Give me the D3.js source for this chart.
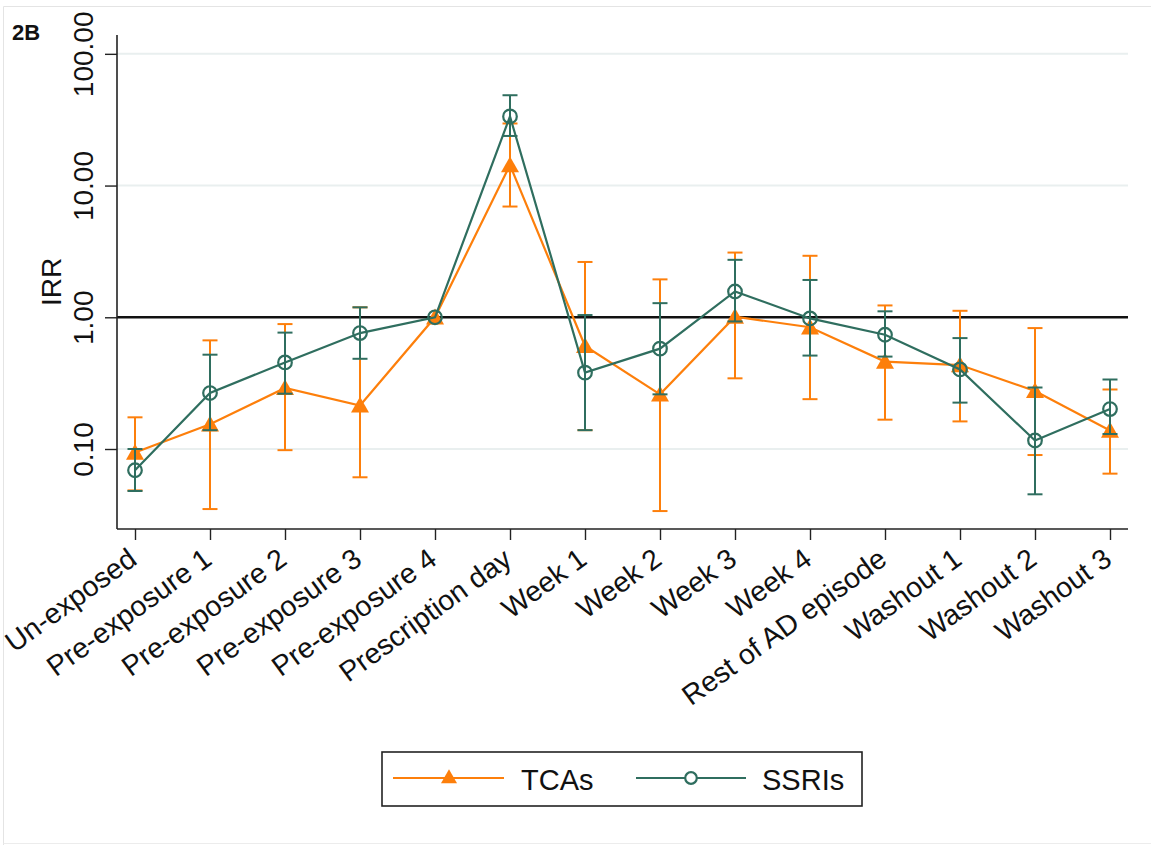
<!DOCTYPE html>
<html>
<head>
<meta charset="utf-8">
<script src="https://cdn.jsdelivr.net/npm/d3@7"></script>
<style>
  html, body { margin: 0; padding: 0; background: #fff; }
  svg { display: block; }
  svg text { font-family: "Liberation Sans", Arial, Helvetica, sans-serif; }
</style>
</head>
<body>
<svg id="chart" width="1151" height="845"></svg>
<script>
// Periods relative to antidepressant prescription
const categories = [
  "Un-exposed", "Pre-exposure 1", "Pre-exposure 2", "Pre-exposure 3", "Pre-exposure 4",
  "Prescription day", "Week 1", "Week 2", "Week 3", "Week 4",
  "Rest of AD episode", "Washout 1", "Washout 2", "Washout 3"
];

// Incidence rate ratios with 95% confidence limits (Pre-exposure 4 = reference)
const tcaIRR  = [0.094, 0.154, 0.291, 0.214, 1.00, 14.3, 0.606, 0.26, 1.01, 0.84, 0.461, 0.434, 0.276, 0.138];
const tcaLow  = [0.0485, 0.035, 0.098, 0.061, null, 6.93, 0.139, 0.0338, 0.344, 0.239, 0.167, 0.162, 0.090, 0.065];
const tcaHigh = [0.174, 0.668, 0.888, 1.19, null, 29.6, 2.63, 1.94, 3.10, 2.93, 1.23, 1.12, 0.828, 0.283];

const ssriIRR  = [0.069, 0.266, 0.454, 0.759, 1.00, 33.5, 0.380, 0.578, 1.57, 0.98, 0.737, 0.402, 0.116, 0.201];
const ssriLow  = [0.048, 0.139, 0.263, 0.484, null, 23.8, 0.139, 0.260, 0.93, 0.512, 0.503, 0.225, 0.0453, 0.130];
const ssriHigh = [0.100, 0.520, 0.765, 1.19, null, 48.5, 1.04, 1.28, 2.73, 1.92, 1.11, 0.695, 0.293, 0.337];

const yTicks = [0.1, 1, 10, 100];
const yTickLabels = ["0.10", "1.00", "10.00", "100.00"];
const seriesNames = ["TCAs", "SSRIs"];

const ORANGE = "#fd7f0b";
const GREEN = "#2f6e5f";
const FONT = '"Liberation Sans", Arial, Helvetica, sans-serif';

const svg = d3.select("#chart");

// light outer frame of the graph region
svg.append("path")
  .attr("d", "M3.5,845 V6.5 H1151")
  .attr("fill", "none").attr("stroke", "#e4e4e4").attr("stroke-width", 1);
svg.append("line")
  .attr("x1", 3.5).attr("x2", 1151).attr("y1", 843.5).attr("y2", 843.5)
  .attr("stroke", "#ececec");

const plot = { left: 117, right: 1128, top: 35, bottom: 529 };

const x = d3.scalePoint()
  .domain(categories)
  .range([plot.left, plot.right])
  .padding(0.24);

const y = d3.scaleLog()
  .domain([0.0247, 139])
  .range([plot.bottom, plot.top]);

// horizontal grid lines
svg.append("g").selectAll("line")
  .data(yTicks.filter(v => v !== 1))
  .join("line")
  .attr("x1", plot.left).attr("x2", plot.right)
  .attr("y1", d => y(d)).attr("y2", d => y(d))
  .attr("stroke", "#e9efef").attr("stroke-width", 2);

// reference line at IRR = 1
svg.append("line")
  .attr("x1", plot.left).attr("x2", plot.right)
  .attr("y1", y(1)).attr("y2", y(1))
  .attr("stroke", "#111").attr("stroke-width", 2.6);

// y axis
const yAxis = d3.axisLeft(y)
  .tickValues(yTicks)
  .tickFormat((d, i) => yTickLabels[i])
  .tickSize(12)
  .tickPadding(0);
const gy = svg.append("g")
  .attr("transform", `translate(${plot.left},0)`)
  .call(yAxis)
  .attr("font-family", FONT);
gy.select(".domain").attr("d", `M0,${plot.top}V${plot.bottom}`).attr("stroke", "#222").attr("stroke-width", 1.6);
gy.selectAll(".tick line").attr("stroke", "#222").attr("stroke-width", 1.4);
gy.selectAll(".tick text")
  .attr("x", 0).attr("y", 0).attr("dy", 0)
  .attr("transform", "translate(-24,0) rotate(-90)")
  .attr("text-anchor", "middle")
  .attr("font-size", 28)
  .attr("fill", "#111");

// y axis title
svg.append("text")
  .attr("transform", `translate(61,${282}) rotate(-90)`)
  .attr("text-anchor", "middle")
  .attr("font-size", 28)
  .attr("fill", "#111")
  .text("IRR");

// x axis
const xAxis = d3.axisBottom(x).tickSize(11).tickPadding(0);
const gx = svg.append("g")
  .attr("transform", `translate(0,${plot.bottom})`)
  .call(xAxis)
  .attr("font-family", FONT);
gx.select(".domain").attr("d", `M${plot.left},0H${plot.right}`).attr("stroke", "#222").attr("stroke-width", 1.6);
gx.selectAll(".tick line").attr("stroke", "#222").attr("stroke-width", 1.4);
gx.selectAll(".tick text")
  .attr("x", 0).attr("y", 0).attr("dy", 0)
  .attr("transform", "translate(3,34) rotate(-36)")
  .attr("text-anchor", "end")
  .attr("font-size", 28.5)
  .attr("fill", "#111");

// panel label
svg.append("text")
  .attr("x", 12).attr("y", 40)
  .attr("font-size", 22).attr("font-weight", "bold")
  .attr("fill", "#111")
  .text("2B");

const trianglePath = (s) => {
  const h = s * 0.88;
  return `M0,${-h * 0.55}L${s / 2},${h * 0.45}L${-s / 2},${h * 0.45}Z`;
};

function drawSeries(vals, lows, highs, color, marker) {
  const g = svg.append("g");
  const rows = categories.map((c, i) => ({ c, v: vals[i], lo: lows[i], hi: highs[i] }));
  const bars = rows.filter(r => r.lo != null && r.hi != null);
  const cap = 7.5;

  // confidence interval capped spikes
  g.selectAll(".ci").data(bars).join("line")
    .attr("x1", d => x(d.c)).attr("x2", d => x(d.c))
    .attr("y1", d => y(d.lo)).attr("y2", d => y(d.hi))
    .attr("stroke", color).attr("stroke-width", 2);
  g.selectAll(".capHi").data(bars).join("line")
    .attr("x1", d => x(d.c) - cap).attr("x2", d => x(d.c) + cap)
    .attr("y1", d => y(d.hi)).attr("y2", d => y(d.hi))
    .attr("stroke", color).attr("stroke-width", 2);
  g.selectAll(".capLo").data(bars).join("line")
    .attr("x1", d => x(d.c) - cap).attr("x2", d => x(d.c) + cap)
    .attr("y1", d => y(d.lo)).attr("y2", d => y(d.lo))
    .attr("stroke", color).attr("stroke-width", 2);

  // connecting line
  g.append("path")
    .datum(rows)
    .attr("d", d3.line().x(d => x(d.c)).y(d => y(d.v)))
    .attr("fill", "none").attr("stroke", color).attr("stroke-width", 2.2);

  // markers
  if (marker === "triangle") {
    g.selectAll(".mk").data(rows).join("path")
      .attr("transform", d => `translate(${x(d.c)},${y(d.v)})`)
      .attr("d", trianglePath(18))
      .attr("fill", color);
  } else {
    g.selectAll(".mk").data(rows).join("circle")
      .attr("cx", d => x(d.c)).attr("cy", d => y(d.v))
      .attr("r", 6.8)
      .attr("fill", "none").attr("stroke", color).attr("stroke-width", 2.2);
  }
}

drawSeries(tcaIRR, tcaLow, tcaHigh, ORANGE, "triangle");
drawSeries(ssriIRR, ssriLow, ssriHigh, GREEN, "circle");

// legend
const lg = svg.append("g");
lg.append("rect")
  .attr("x", 382).attr("y", 752).attr("width", 480).attr("height", 54)
  .attr("fill", "#fff").attr("stroke", "#222").attr("stroke-width", 1.6);

lg.append("line").attr("x1", 393).attr("x2", 504).attr("y1", 778).attr("y2", 778)
  .attr("stroke", ORANGE).attr("stroke-width", 2.2);
lg.append("path").attr("transform", "translate(449,777)").attr("d", trianglePath(16)).attr("fill", ORANGE);
lg.append("text").attr("x", 521).attr("y", 790).attr("font-size", 29).attr("fill", "#111").text(seriesNames[0]);

lg.append("line").attr("x1", 636).attr("x2", 746).attr("y1", 778).attr("y2", 778)
  .attr("stroke", GREEN).attr("stroke-width", 2.2);
lg.append("circle").attr("cx", 691).attr("cy", 778).attr("r", 5.8)
  .attr("fill", "#fff").attr("stroke", GREEN).attr("stroke-width", 2.2);
lg.append("text").attr("x", 762).attr("y", 790).attr("font-size", 29).attr("fill", "#111").text(seriesNames[1]);
</script>
</body>
</html>
